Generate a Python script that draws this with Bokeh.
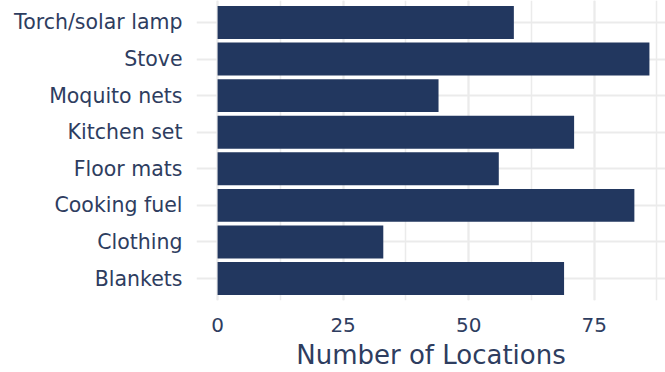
from bokeh.plotting import figure
from bokeh.models import FixedTicker, SingleIntervalTicker, Range1d, ColumnDataSource
from bokeh.embed import file_html
from bokeh.resources import INLINE

# Data (top to bottom as shown)
categories = ["Torch/solar lamp", "Stove", "Moquito nets", "Kitchen set",
              "Floor mats", "Cooking fuel", "Clothing", "Blankets"]
counts = [59, 86, 44, 71, 56, 83, 33, 69]
x_ticks = [0, 25, 50, 75]
x_title = "Number of Locations"

n = len(categories)
ypos = [n - 1 - i for i in range(n)]  # top category highest

src = ColumnDataSource(dict(y=ypos, v=counts, cat=categories))

TEXT = "#2E3D5F"
BAR = "#22375F"
FONT = "DejaVu Sans"

p = figure(width=665, height=372, output_backend="svg", toolbar_location=None,
           x_range=Range1d(-4.2, 89.2), y_range=Range1d(-0.6, n - 1 + 0.6),
           min_border_left=196, min_border_right=0, min_border_top=0,
           min_border_bottom=0)
p.outline_line_color = None
p.background_fill_color = "white"
p.border_fill_color = "white"

p.hbar(y="y", right="v", left=0, height=0.9, source=src,
       fill_color=BAR, line_color=None)

# x axis
p.xaxis.ticker = SingleIntervalTicker(interval=25, num_minor_ticks=2)
p.xaxis.major_label_overrides = {t: str(t) for t in x_ticks}
p.xaxis.axis_label = x_title
p.xaxis.axis_label_text_font = FONT
p.xaxis.axis_label_text_font_size = "26px"
p.xaxis.axis_label_text_font_style = "normal"
p.xaxis.axis_label_text_color = TEXT
p.xaxis.axis_label_standoff = 5
p.xaxis.major_label_text_font = FONT
p.xaxis.major_label_text_font_size = "20px"
p.xaxis.major_label_text_color = TEXT
p.xaxis.major_label_standoff = 11
p.xaxis.axis_line_color = None
p.xaxis.major_tick_line_color = None
p.xaxis.minor_tick_line_color = None

# y axis
p.yaxis.ticker = FixedTicker(ticks=ypos)
p.yaxis.major_label_overrides = {y: c for y, c in zip(ypos, categories)}
p.yaxis.major_label_text_font = FONT
p.yaxis.major_label_text_font_size = "20.5px"
p.yaxis.major_label_text_color = TEXT
p.yaxis.major_tick_out = 0
p.yaxis.major_tick_in = 0
p.yaxis.major_label_standoff = 14
p.yaxis.axis_line_color = None
p.yaxis.major_tick_line_color = None
p.yaxis.minor_tick_line_color = None

# grids
p.xgrid.grid_line_color = "#EBEBEB"
p.xgrid.grid_line_width = 2
p.xgrid.minor_grid_line_color = "#EBEBEB"
p.xgrid.minor_grid_line_width = 1.5
p.ygrid.grid_line_color = "#EBEBEB"
p.ygrid.grid_line_width = 2
p.ygrid.minor_grid_line_color = None
p.xgrid.level = "underlay"
p.ygrid.level = "underlay"

open("out.html", "w").write(file_html(p, INLINE))
